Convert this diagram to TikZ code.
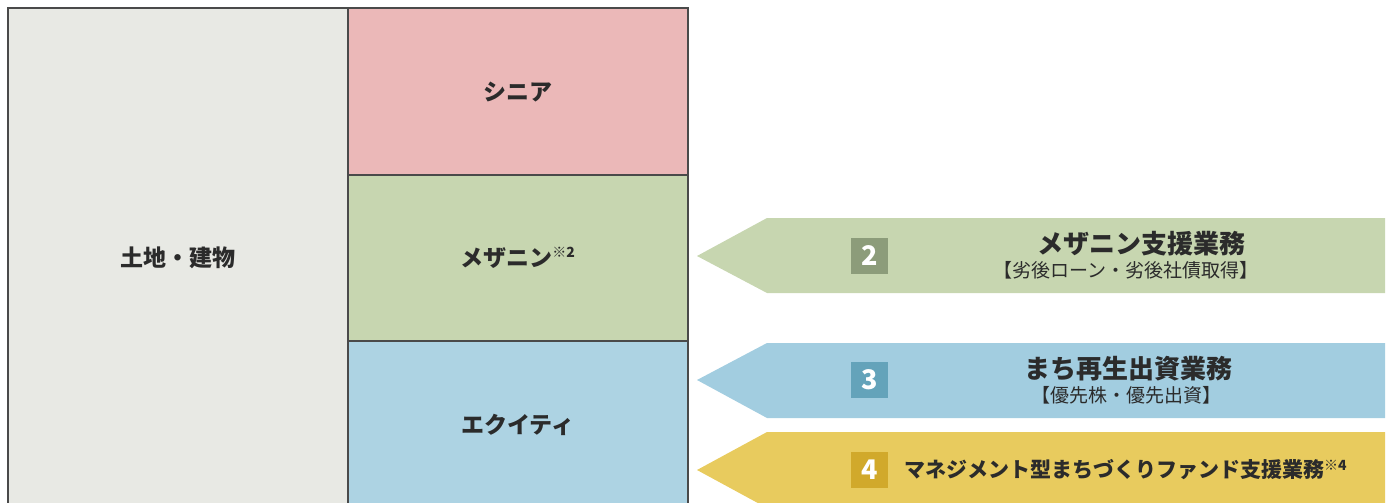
\documentclass[tikz,border=0pt]{standalone}
\usepackage{fontspec}
\setmainfont{Noto Sans CJK JP}
\definecolor{landc}{HTML}{E8E9E4}
\definecolor{seniorc}{HTML}{EBB8B8}
\definecolor{mezzc}{HTML}{C7D6B0}
\definecolor{equityc}{HTML}{ADD3E3}
\definecolor{arrowtwo}{HTML}{C7D6B0}
\definecolor{boxtwo}{HTML}{8C9C7A}
\definecolor{arrowthree}{HTML}{A2CDE0}
\definecolor{boxthree}{HTML}{64A3BA}
\definecolor{arrowfour}{HTML}{E8CB5E}
\definecolor{boxfour}{HTML}{D1A92B}
\definecolor{txt}{HTML}{2B2B2B}
\definecolor{edge}{HTML}{4A4A4A}
\tikzset{
  block/.style={draw=edge, line width=1.2pt},
  lbl/.style={font=\bfseries\fontsize{23}{25}\selectfont, text=txt},
  numbox/.style={minimum width=37pt, minimum height=36pt, inner sep=0pt, text=white, font=\bfseries\fontsize{27}{27}\selectfont},
  ttl/.style={font=\bfseries\fontsize{26}{28}\selectfont, text=txt, inner sep=0pt},
  sub/.style={font=\fontsize{19}{21}\selectfont, text=txt, inner sep=0pt},
}
\newcommand{\kome}[1]{\textsuperscript{\fontsize{14}{14}\selectfont ※#1}}
\begin{document}
\begin{tikzpicture}[x=1pt,y=-1pt]
\useasboundingbox (0,0) rectangle (1389,503);
% left and right blocks
\path[fill=landc] (8,8) rectangle (348,503);
\path[fill=seniorc] (348,8) rectangle (688,175);
\path[fill=mezzc] (348,175) rectangle (688,341);
\path[fill=equityc] (348,341) rectangle (688,503);
\draw[block] (8,503) -- (8,8) -- (688,8) -- (688,503);
\draw[block] (348,8) -- (348,503);
\draw[block] (348,175) -- (688,175);
\draw[block] (348,341) -- (688,341);
\node[lbl] (land) at (178,258) {土地・建物};
\node[lbl] (senior) at (518,92) {シニア};
\node[lbl] (mezz) at (518,258) {メザニン\kome{2}};
\node[lbl] (equity) at (518,425) {エクイティ};
% arrows
\path[fill=arrowtwo] (697,256) -- (767,218) -- (1385,218) -- (1385,293) -- (767,293) -- cycle;
\path[fill=arrowthree] (697,380) -- (767,343) -- (1385,343) -- (1385,418) -- (767,418) -- cycle;
\path[fill=arrowfour] (697,470) -- (767,432) -- (1385,432) -- (1385,508) -- (767,508) -- cycle;
\node[numbox, fill=boxtwo] (n2) at (869.5,256) {2};
\node[numbox, fill=boxthree] (n3) at (869.5,380) {3};
\node[numbox, fill=boxfour] (n4) at (869.5,470) {4};
\node[ttl] (t2) at (1141,244) {メザニン支援業務};
\node[sub] (s2) at (1126,270) {【劣後ローン・劣後社債取得】};
\node[ttl] (t3) at (1128,369) {まち再生出資業務};
\node[sub] (s3) at (1126,395) {【優先株・優先出資】};
\node[ttl, anchor=west, font=\bfseries\fontsize{21}{23}\selectfont] (t4) at (904,470) {マネジメント型まちづくりファンド支援業務\kome{4}};
\end{tikzpicture}
\end{document}
